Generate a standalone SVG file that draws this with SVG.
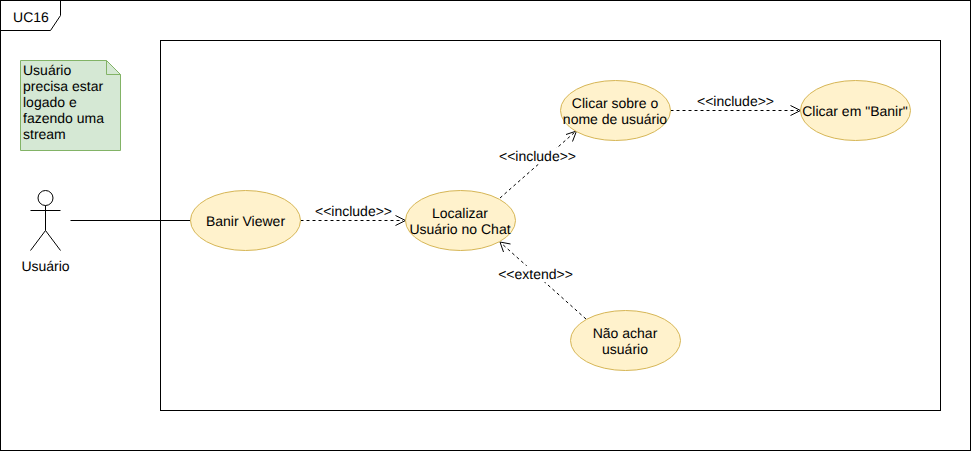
<svg xmlns="http://www.w3.org/2000/svg" width="971" height="451" viewBox="0 0 971 451">
<defs>
<style>
text{font-family:"Liberation Sans",Arial,sans-serif;font-size:14px;fill:#000;text-anchor:middle;text-rendering:geometricPrecision}
.u{fill:#fff2cc;stroke:#d6b656;stroke-width:1}
.b{fill:none;stroke:#000;stroke-width:1}
.d{fill:none;stroke:#000;stroke-width:1;stroke-dasharray:3 3}
.h{fill:none;stroke:#000;stroke-width:1}
.n{text-anchor:start}
.lb{fill:#fff}
</style>
</defs>
<rect width="971" height="451" fill="#fff"/>
<g id="frame">
<rect class="b" x="0.5" y="0.5" width="970" height="450"/>
<path class="b" d="M0.5 30.5H50.5L60.5 15.5V0.5"/>
<text x="31" y="21.5">UC16</text>
</g>
<g id="system"><rect class="b" x="160.5" y="40.5" width="780" height="370"/></g>
<g id="note">
<path d="M20.5 60.5H106.5L120.5 74.5V150.5H20.5Z" fill="#d5e8d4" stroke="#82b366"/>
<path d="M106.5 60.5V74.5H120.5" fill="none" stroke="#82b366"/>
<text class="n" x="23" y="75">Usuário</text>
<text class="n" x="23" y="91">precisa estar</text>
<text class="n" x="23" y="107">logado e</text>
<text class="n" x="23" y="123">fazendo uma</text>
<text class="n" x="23" y="139">stream</text>
</g>
<g id="actor">
<circle class="b" cx="45.5" cy="198" r="7.5"/>
<path class="b" d="M45.5 205.500V230.500M30.500 210.500H60.500M30.500 250.500L45.500 230.500L60.500 250.500"/>
<text x="45.500" y="271">Usuário</text>
</g>
<g id="connectors">
<path class="b" d="M70.500 220.500H190.500"/>
<path class="d" d="M300.500 220.500H403"/>
<path class="h" d="M395.500 215.500L405.500 220.500L395.500 225.500"/>
<path class="d" d="M500 198L575 132"/>
<path class="h" d="M566 134.500L576.500 131L572.500 141.500"/>
<path class="d" d="M670.500 110.500H798"/>
<path class="h" d="M790.500 105.500L800.500 110.500L790.500 115.500"/>
<path class="d" d="M586 319L501 243"/>
<path class="h" d="M510.500 244L500 242L503.500 252"/>
<rect class="lb" x="499" y="148" width="77" height="16"/>
<rect class="lb" x="498" y="266" width="75" height="16"/>
<text x="353.500" y="216">&lt;&lt;include&gt;&gt;</text>
<text x="537.500" y="161">&lt;&lt;include&gt;&gt;</text>
<text x="735.500" y="106">&lt;&lt;include&gt;&gt;</text>
<text x="535.500" y="279">&lt;&lt;extend&gt;&gt;</text>
</g>
<g id="uc-banir-viewer">
<ellipse class="u" cx="245.500" cy="220.500" rx="55" ry="30"/>
<text x="245.500" y="226">Banir Viewer</text>
</g>
<g id="uc-localizar">
<ellipse class="u" cx="460.500" cy="220.500" rx="55" ry="30"/>
<text x="460" y="218">Localizar</text>
<text x="460" y="234">Usuário no Chat</text>
</g>
<g id="uc-clicar-nome">
<ellipse class="u" cx="615.500" cy="110.500" rx="55" ry="30"/>
<text x="615" y="108">Clicar sobre o</text>
<text x="615" y="124">nome de usuário</text>
</g>
<g id="uc-clicar-banir">
<ellipse class="u" cx="855.500" cy="110.500" rx="55" ry="30"/>
<text x="855" y="116">Clicar em "Banir"</text>
</g>
<g id="uc-nao-achar">
<ellipse class="u" cx="625.500" cy="340.500" rx="55" ry="30"/>
<text x="625" y="338">Não achar</text>
<text x="625" y="354">usuário</text>
</g>
</svg>
